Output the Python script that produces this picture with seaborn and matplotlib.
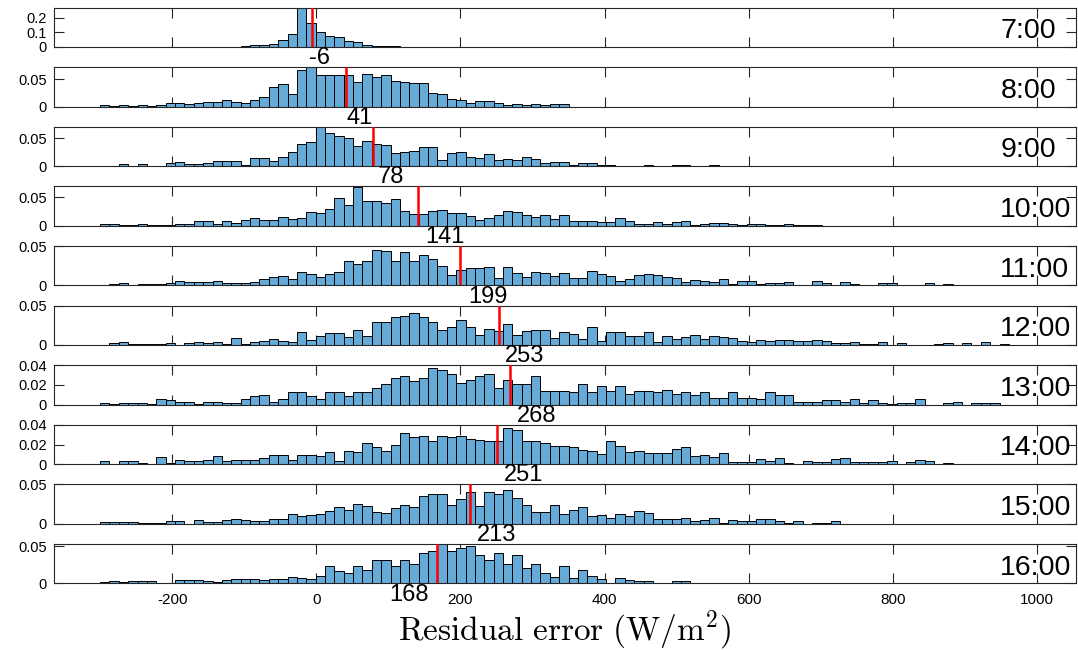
import numpy as np
import pandas as pd
import matplotlib.pyplot as plt
import seaborn as sns

# hour of each panel, mean residual (red line) and label text
hours = ['7:00', '8:00', '9:00', '10:00', '11:00', '12:00', '13:00', '14:00', '15:00', '16:00']
means = [-6, 41, 78, 141, 199, 253, 268, 251, 213, 168]
label_x = [5, 60, 103, 178, 238, 289, 305, 287, 250, 128]

# histogram bins (W/m2)
bin_start = -300
bin_width = 13

# bin probabilities in per mille, one list per hour
p07 = [0.5, 0.5, 0.5, 0.5, 0.5, 0.5, 0.5, 0.5, 0.5, 1, 1,
       1, 2, 2, 3, 8, 15, 17, 22, 50, 91,
       280, 165, 105, 79, 72, 41, 31, 14, 7, 6,
       4, 3, 2, 2, 1, 1, 1, 1, 0.5, 0.5,
       0.5, 0.5, 0.5, 0.5, 0.5, 0.5, 0.5, 0.5, 0.5, 0.5,
       0.5, 0.5, 0.5, 0.5, 0.5, 0.5, 0.5, 0.5, 0.5, 0.5,
       0.5, 0.5, 0.5, 0.5, 0.5, 0.5, 0.5, 0.5, 0.5, 0.5,
       0.5, 0.5, 0.5, 0.5, 0.5, 0.5, 0.5, 0.5, 0.5, 0.5,
       0.5, 0.5, 0.5, 0.5, 0.5, 0.5, 0.5, 0.5, 0.5, 0.5]
p08 = [2, 1, 2, 1, 2, 1, 3, 7, 6, 4, 6,
       8, 9, 12, 7.5, 6, 12.5, 17, 35.5, 41, 22,
       66.7, 71, 58, 58, 58, 57, 45, 60, 54, 58,
       47, 45, 43, 43, 24, 22, 14, 12.5, 7, 11,
       11, 7, 3, 4, 2, 4, 3, 4, 4]
p09 = [1, 1, 4, 0.6, 4, 0.6, 1, 5, 8, 4.5, 4.5,
       5, 9, 9, 9, 3, 14, 15, 9, 16, 26,
       40, 44, 70, 59, 54, 51, 36, 46, 40, 37.5,
       24, 26, 27.5, 35, 34, 11, 24, 26, 17, 15,
       22, 11, 12.5, 11, 16, 12.5,
       5, 7.5, 7.5, 3, 5, 5, 2, 3, 1, 1, 0.5, 3, 0.5, 0.5, 3, 2, 0.5, 0.5, 3]
p10 = [3.6, 3.6, 2, 2, 3.6, 2, 2, 2, 3.6, 3.6, 8,
       8, 4, 8, 5.4, 10, 13, 10, 10, 15.5, 12,
       14.3, 24, 22.6, 30, 49, 36, 68, 44, 44, 39,
       46, 26, 21, 21, 25, 27, 22, 22, 17, 10,
       14.3, 19, 25, 24, 19, 15,
       18, 12, 18, 8, 8, 8, 6, 7, 13.7, 9, 3.6, 3.6, 6.5, 3.6, 6, 9, 0.6,
       3.6, 5, 5, 2.4, 0.6, 2.4, 2.4, 1.2, 1.2, 3.6, 0.6, 1.2, 1.2]
p11 = [1, 1.3, 2.6, 0.4, 1.3, 1.3, 1.3, 2.6, 5, 4, 4,
       4, 5, 3, 3, 3, 4, 7.8, 11, 12, 7.8,
       17, 14.7, 11, 14.7, 17, 31.5, 27.6, 31.5, 44.8, 43.5,
       31.5, 42.2, 31.5, 39, 34, 25, 13, 19, 22, 22,
       23.7, 9.5, 23, 16, 11, 16.4,
       15.5, 12, 16, 9, 9, 17.7, 15, 12.5, 5, 8, 13.4, 14.7, 13.4, 11, 9.5,
       4.7, 6.5, 5, 4.3, 7.8, 2, 5, 5, 2, 2.6, 2.6, 4, 1, 0, 5, 2.6, 0.4,
       4, 1.7, 0, 1, 2.6, 2.6, 0, 0, 0.4, 2.6, 0, 1.3]
p12 = [0.4, 2, 4.3, 1.3, 1.3, 1.3, 1.7, 3, 0, 2.6, 4.3,
       3, 4.3, 1.3, 9.4, 1.3, 4.3, 5.6, 8.1, 5.6, 4.3,
       16.7, 6.8, 11, 15, 15, 10.7, 18.8, 11, 28.6, 28.6,
       35.4, 37, 41, 35, 28.6, 18.8, 23, 32, 23, 12.4,
       20, 18, 27, 13, 18, 18.8,
       19, 8.5, 17, 14.5, 7.3, 22.6, 5, 16, 17, 12, 12, 17, 4.3, 12, 7.3,
       9.8, 12.8, 7.3, 12, 10, 9.4, 5, 4.3, 6, 4.7, 6.8, 6.8, 4.7, 5.6, 6.4,
       4.7, 2.6, 2.6, 3.8, 1.3, 1.3, 3.8, 0, 2, 0, 0, 0, 1.7, 2.6, 0, 2, 0,
       3.8, 0, 0.8]
p13 = [1.4, 0.7, 1.4, 1.4, 1.4, 0.3, 5.9, 4.5, 3, 3, 0.7,
       3, 3, 1.7, 1.7, 5.9, 9, 10, 3, 5.9, 12.8,
       12.8, 9, 5.9, 12.8, 12.8, 9, 12.8, 12.8, 16.9, 21,
       26.6, 29, 23.8, 26.6, 37.6, 34.9, 30.7, 22.4, 25.2, 29,
       30.7, 16.9, 25.2, 21, 21, 29,
       13.5, 13.5, 13.5, 12.4, 21, 12.4, 19.3, 14, 19.3, 11, 14, 14, 12.8,
       15, 11, 12.4, 10, 12.4, 7.2, 7.2, 12.4, 7.2, 7.2, 5.9, 12.4, 10, 10,
       3, 3, 3, 4.5, 4.5, 3, 5.9, 1.7, 4.5, 1.7, 0.7, 1.7, 1.7, 5.9, 0, 0,
       1.7, 3, 0, 1.7, 1.7, 1.7]
p14 = [2.8, 0, 2.8, 2.8, 1.4, 0, 6.9, 1.4, 3.8, 2.8, 2.8,
       3.8, 7.9, 2.8, 3.8, 3.8, 3.8, 6.6, 9.7, 9.7, 3.8,
       9.7, 9.7, 7.9, 12, 2.8, 13.5, 12, 21.7, 17.6, 13.8,
       20, 31.7, 27.2, 28.6, 23.5, 28.6, 27.6, 28.6, 26, 24.5,
       23.5, 24, 36.6, 35, 23.5, 23.5,
       22, 19, 19, 17.6, 14.8, 13.5, 10.3, 24, 19, 12.4, 13.5, 11, 11, 11.7,
       15.9, 17.2, 7.9, 9.3, 7.6, 11, 2, 2.4, 2.4, 5.2, 2.8, 6.6, 1, 0, 3.5,
       2, 2, 5.2, 6.6, 2, 2, 2, 2, 2.8, 0, 2, 3.8, 2.8, 0, 1.4]
p15 = [2.6, 1.7, 2.6, 2.6, 1.3, 0.4, 1.3, 3.9, 3.9, 0, 5.2,
       2.6, 1.7, 5.2, 6.5, 5.2, 3.9, 3.9, 6.5, 6.5, 13,
       9.6, 10.9, 13, 16, 21, 17.8, 24.8, 22.6, 15.2, 13.5,
       19.6, 23.5, 21, 35.7, 38.3, 38.3, 24, 31.7, 40, 22,
       40, 38.3, 42.6, 33, 23.5, 15.2,
       15.2, 23.5, 12.2, 17.8, 21, 9.6, 10.9, 7.8, 12.2, 9.6, 16.5, 13.5,
       6.5, 6.5, 6.5, 7.8, 3, 4.3, 7.8, 1.3, 5.2, 3.9, 3.9, 6.5, 6.5, 3.9,
       1.3, 3.9, 0, 1.3, 1.3, 3.9]
p16 = [1.8, 2.7, 1.4, 2.7, 2.7, 2.7, 0, 0, 4, 4, 4,
       2.7, 1.8, 5, 5.9, 5.9, 5.9, 5, 5.9, 5.9, 9,
       7.7, 5.9, 10.4, 24, 17.2, 14.5, 24, 18.6, 32, 31,
       22.7, 32, 26.7, 41, 44, 53, 43.5, 47, 50, 37.6,
       31, 41, 25.4, 37.6, 20, 26.7,
       13.6, 8.6, 23.5, 7.2, 18, 10, 6.3, 1, 7.2, 4.5, 2.7, 3.6, 1, 1, 3.6,
       3.6, 1, 0, 1]
hist_values = [p07, p08, p09, p10, p11, p12, p13, p14, p15, p16]

# y axis of each panel
y_top = [0.272, 0.0717, 0.0712, 0.069, 0.0502, 0.0502, 0.0402, 0.0402, 0.0502, 0.053]
y_ticks = [[0, 0.1, 0.2], [0, 0.05], [0, 0.05], [0, 0.05], [0, 0.05],
           [0, 0.05], [0, 0.02, 0.04], [0, 0.02, 0.04], [0, 0.05], [0, 0.05]]
y_ticklabels = [['0', '0.1', '0.2'], ['0', '0.05'], ['0', '0.05'], ['0', '0.05'], ['0', '0.05'],
                ['0', '0.05'], ['0', '0.02', '0.04'], ['0', '0.02', '0.04'], ['0', '0.05'], ['0', '0.05']]
x_ticks = [-200, 0, 200, 400, 600, 800, 1000]

sns.set_style('ticks')
plt.rcParams['font.family'] = ['Liberation Sans', 'DejaVu Sans']
plt.rcParams['axes.unicode_minus'] = False
plt.rcParams['mathtext.fontset'] = 'cm'
plt.rcParams['text.color'] = 'black'
plt.rcParams['axes.labelcolor'] = 'black'
plt.rcParams['xtick.color'] = 'black'
plt.rcParams['ytick.color'] = 'black'

bar_color = '#66aad7'
fig = plt.figure(figsize=(10.78, 6.5), dpi=100)

W, H = 1078, 650
left_px, right_px = 54, 1076
for i in range(10):
    top_px = 7.5 + i * 59.6
    ax = fig.add_axes([left_px / W, 1 - (top_px + 39.5) / H, (right_px - left_px) / W, 39.5 / H])
    ax.patch.set_alpha(0)
    vals = np.array(hist_values[i]) / 1000
    k = np.arange(len(vals))
    df = pd.DataFrame({'center': bin_start + bin_width * (k + 0.5), 'prob': vals})
    sns.histplot(data=df, x='center', weights='prob', binwidth=bin_width,
                 binrange=(bin_start, bin_start + bin_width * len(vals)), ax=ax,
                 color=bar_color, edgecolor='black', linewidth=0.7, alpha=1)
    ax.axvline(means[i], color='red', lw=1.8, zorder=5)
    ax.set_xlim(-364, 1054)
    ax.set_ylim(0, y_top[i])
    ax.set_xticks(x_ticks)
    ax.set_yticks(y_ticks[i], labels=y_ticklabels[i])
    ax.tick_params(direction='in', top=True, right=True, length=7, width=0.8,
                   color='#262626', labelcolor='black', labelsize=10.5, pad=5)
    ax.tick_params(axis='x', labelsize=11, pad=7)
    for s in ax.spines.values():
        s.set_linewidth(0.8)
        s.set_color('#262626')
    ax.set_ylabel('')
    ax.set_xlabel('')
    if i < 9:
        ax.tick_params(axis='x', labelbottom=False)
    ax.text(949, 0.4, hours[i], transform=ax.get_xaxis_transform(),
            ha='left', va='center', fontsize=20.5, color='black')
    ax.annotate(str(means[i]), xy=(label_x[i], 0), xycoords=ax.get_xaxis_transform(),
                xytext=(0, -8), textcoords='offset points', ha='center', va='center',
                fontsize=17, color='black', annotation_clip=False)

ax.set_xlabel(r'$\mathrm{Residual\ error\ (W/m^2)}$', fontsize=24, labelpad=1, color='black')

fig.savefig('out.png', dpi=100)
